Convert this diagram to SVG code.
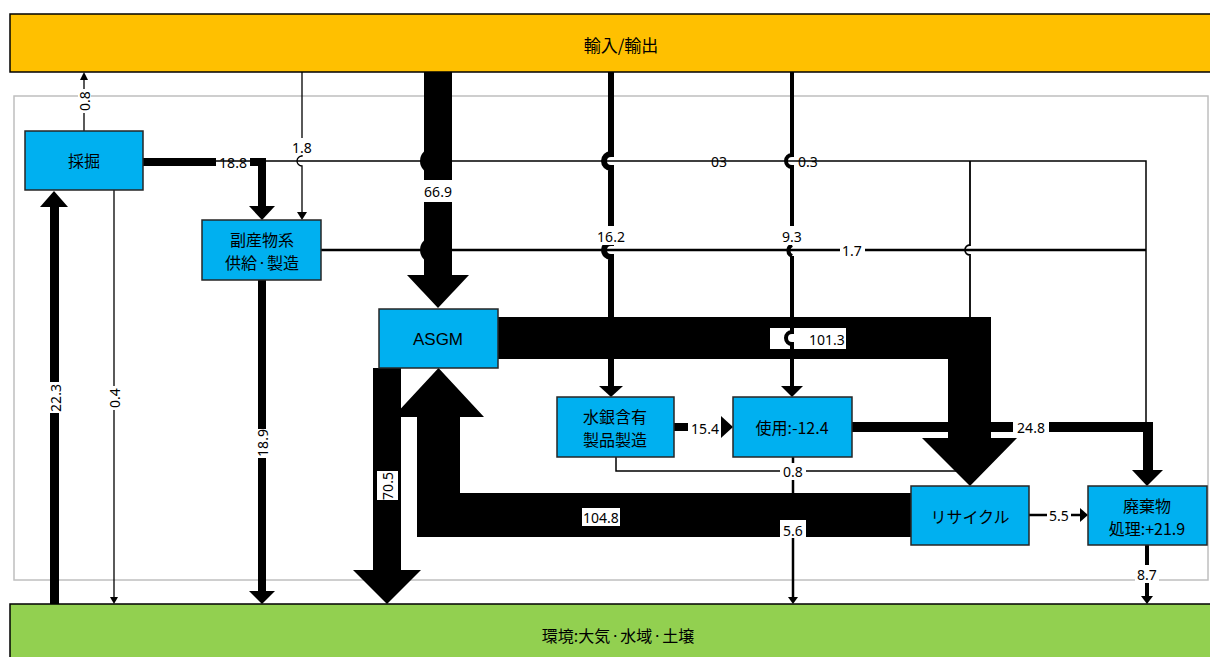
<svg xmlns="http://www.w3.org/2000/svg" width="1210" height="657" viewBox="0 0 1210 657">
<style>
.node{fill:#00B0F0;stroke:#262626;stroke-width:1.5}
.nt{font-family:"Noto Sans CJK JP","Noto Sans",sans-serif;font-size:16px;text-anchor:middle;dominant-baseline:central;fill:#000}
.at{font-family:"Liberation Sans",Arial,sans-serif;font-size:17px;text-anchor:middle;dominant-baseline:central;fill:#000}
.lb{font-family:"Noto Sans","Liberation Sans",sans-serif;font-size:14px;text-anchor:middle;dominant-baseline:central;fill:#000}
.dot{font-size:10px}
.bg{fill:#fff}
.ln{fill:none;stroke:#000}
.blk{fill:#000}
</style>
<rect width="1210" height="657" fill="#fff"/>
<rect x="14" y="96" width="1194" height="484" fill="none" stroke="#BFBFBF" stroke-width="1.5"/>
<g id="import-export">
<rect x="10" y="14" width="1210" height="58" fill="#FFC000" stroke="#000" stroke-width="1.5"/>
<text class="nt" x="621" y="44" style="font-size:17px">輸入/輸出</text>
</g>
<g id="environment">
<rect x="10" y="604" width="1210" height="60" fill="#92D050" stroke="#000" stroke-width="1.5"/>
<text class="nt" x="618" y="635">環境:大気<tspan class="dot">・</tspan>水域<tspan class="dot">・</tspan>土壌</text>
</g>
<g id="connectors">
<!-- 22.3 env -> mining -->
<rect class="blk" x="50" y="205" width="9" height="399"/>
<polygon class="blk" points="40,207 68,207 54,191"/>
<rect class="bg" x="48" y="382" width="13" height="31"/>
<text class="lb" transform="translate(55,398) rotate(-90)">22.3</text>
<!-- 0.4 mining -> env -->
<path class="ln" stroke-width="1.3" d="M114,190 V597"/>
<polygon class="blk" points="110,597 118,597 114,604"/>
<rect class="bg" x="108" y="386" width="13" height="24"/>
<text class="lb" transform="translate(114,398) rotate(-90)">0.4</text>
<!-- 0.8 mining -> top -->
<path class="ln" stroke-width="1.3" d="M84,131 V80"/>
<polygon class="blk" points="80,80 88,80 84,72"/>
<rect class="bg" x="78" y="89" width="13" height="24"/>
<text class="lb" transform="translate(84,101) rotate(-90)">0.8</text>
<!-- 18.8 mining -> byproduct -->
<path class="ln" stroke-width="8" d="M143,162 H262 V207"/>
<polygon class="blk" points="249,206 275,206 262,220"/>
<rect class="bg" x="216" y="153" width="34" height="17"/>
<text class="lb" x="233" y="162">18.8</text>
<!-- 0.3 thin lines -->
<path class="ln" stroke="#333" stroke-width="1.5" d="M143,161 H1146 V422"/>
<path class="ln" stroke="#333" stroke-width="1.8" d="M970,161 V245 A5 5 0 0 0 970,255 V318"/>
<text class="lb" x="719" y="161">03</text>
<text class="lb" x="808" y="161">0.3</text>
<!-- 1.8 top -> byproduct -->
<path class="ln" stroke-width="1.3" d="M302,72 V156 A5 5 0 0 0 302,166 V212"/>
<polygon class="blk" points="297,212 307,212 302,220"/>
<rect class="bg" x="291" y="138" width="22" height="17"/>
<text class="lb" x="302" y="147">1.8</text>
<!-- 1.7 byproduct -> waste -->
<path class="ln" stroke-width="2.5" d="M321,250 H1146"/>
<rect class="bg" x="840" y="242" width="25" height="17"/>
<text class="lb" x="852" y="250">1.7</text>
<!-- 66.9 top -> ASGM -->
<rect class="blk" x="424" y="72" width="28" height="204"/>
<circle class="blk" cx="433" cy="161" r="13"/>
<circle class="blk" cx="433" cy="250" r="13"/>
<polygon class="blk" points="407,275 469,275 438,308"/>
<rect class="bg" x="423" y="180" width="30" height="22"/>
<text class="lb" x="438" y="191">66.9</text>
<!-- 16.2 top -> products -->
<path class="ln" stroke-width="6" d="M611,72 V154 A7 7 0 0 0 611,168 V243 A7 7 0 0 0 611,257 V387"/>
<polygon class="blk" points="599,386 623,386 611,397"/>
<rect class="bg" x="595" y="226" width="32" height="19"/>
<text class="lb" x="611" y="236">16.2</text>
<!-- 24.8 use -> waste -->
<path class="ln" stroke-width="10" d="M852,427 H1148 V472"/>
<polygon class="blk" points="1132,470 1163,470 1147,486"/>
<rect class="bg" x="1013" y="418" width="36" height="18"/>
<text class="lb" x="1031" y="427">24.8</text>
<!-- 0.8 products -> recycle -->
<path class="ln" stroke-width="1.5" d="M616,457 V471 H960"/>
<!-- 5.6 use -> env -->
<path class="ln" stroke-width="2.5" d="M793,457 V598"/>
<polygon class="blk" points="788,597 798,597 793,604"/>
<rect class="bg" x="780" y="463" width="26" height="17"/>
<text class="lb" x="793" y="471">0.8</text>
<!-- 101.3 ASGM -> recycle -->
<polygon class="blk" points="498,317 991,317 991,438 1017,438 970,486 922,438 948,438 948,359 498,359"/>
<!-- 9.3 top -> use -->
<path class="ln" stroke-width="4" d="M792,72 V155 A6 6 0 0 0 792,167 V226"/>
<path class="ln" stroke-width="4" d="M792,245 A6 6 0 0 0 792,256"/>
<rect class="bg" x="770" y="328" width="76" height="21"/>
<path class="ln" stroke-width="4" d="M792,256 V332 A6 6 0 0 0 792,344 V387"/>
<polygon class="blk" points="781,386 803,386 792,397"/>
<rect class="bg" x="780" y="226" width="24" height="19"/>
<text class="lb" x="792" y="236">9.3</text>
<text class="lb" x="827" y="339">101.3</text>
<!-- 15.4 products -> use -->
<path class="ln" stroke-width="8" d="M674,427 H723"/>
<polygon class="blk" points="721,416 733,427 721,438"/>
<rect class="bg" x="688" y="418" width="33" height="19"/>
<text class="lb" x="705" y="428">15.4</text>
<!-- 104.8 recycle -> ASGM -->
<polygon class="blk" points="911,493 460,493 460,417 484,417 438.5,368 393,417 417,417 417,537 911,537"/>
<rect class="bg" x="582" y="508" width="38" height="18"/>
<text class="lb" x="601" y="517">104.8</text>
<rect class="bg" x="780" y="520" width="26" height="18"/>
<text class="lb" x="793" y="530">5.6</text>
<!-- 70.5 ASGM -> env -->
<polygon class="blk" points="373,368 401,368 401,570 421,570 387,604 353,570 373,570"/>
<rect class="bg" x="377" y="471" width="21" height="29"/>
<text class="lb" transform="translate(387,486) rotate(-90)">70.5</text>
<!-- 18.9 byproduct -> env -->
<path class="ln" stroke-width="8" d="M262,280 V592"/>
<polygon class="blk" points="249,591 275,591 262,604"/>
<rect class="bg" x="256" y="429" width="13" height="29"/>
<text class="lb" transform="translate(262,443) rotate(-90)">18.9</text>
<!-- 5.5 recycle -> waste -->
<path class="ln" stroke-width="2.5" d="M1029,515 H1081"/>
<polygon class="blk" points="1080,508 1088,515 1080,522"/>
<rect class="bg" x="1047" y="507" width="24" height="17"/>
<text class="lb" x="1059" y="515">5.5</text>
<!-- 8.7 waste -> env -->
<path class="ln" stroke-width="4" d="M1147,545 V597"/>
<polygon class="blk" points="1141,596 1153,596 1147,604"/>
<rect class="bg" x="1135" y="565" width="24" height="18"/>
<text class="lb" x="1147" y="574">8.7</text>
</g>
<g id="mining">
<rect class="node" x="25" y="131" width="118" height="59"/>
<text class="nt" x="84" y="160">採掘</text>
</g>
<g id="byproduct">
<rect class="node" x="202" y="220" width="119" height="60"/>
<text class="nt" x="262" y="239">副産物系</text>
<text class="nt" x="262" y="262">供給<tspan class="dot">・</tspan>製造</text>
</g>
<g id="asgm">
<rect class="node" x="379" y="309" width="119" height="59"/>
<text class="at" x="438" y="339">ASGM</text>
</g>
<g id="products">
<rect class="node" x="557" y="397" width="117" height="60"/>
<text class="nt" x="615" y="416">水銀含有</text>
<text class="nt" x="615" y="439">製品製造</text>
</g>
<g id="use">
<rect class="node" x="733" y="397" width="119" height="60"/>
<text class="nt" x="792" y="427">使用:-12.4</text>
</g>
<g id="recycle">
<rect class="node" x="911" y="486" width="118" height="59"/>
<text class="nt" x="970" y="516">リサイクル</text>
</g>
<g id="waste">
<rect class="node" x="1088" y="486" width="119" height="59"/>
<text class="nt" x="1147" y="505">廃棄物</text>
<text class="nt" x="1147" y="528">処理:+21.9</text>
</g>
</svg>
